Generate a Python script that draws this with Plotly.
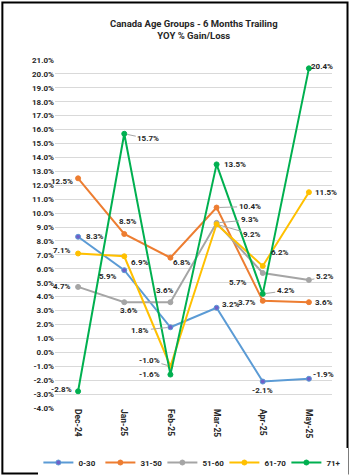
import plotly.graph_objects as go

months = ["Dec-24", "Jan-25", "Feb-25", "Mar-25", "Apr-25", "May-25"]
age_0_30 = [8.3, 5.9, 1.8, 3.2, -2.1, -1.9]
age_31_50 = [12.5, 8.5, 6.8, 10.4, 3.7, 3.6]
age_51_60 = [4.7, 3.6, 3.6, 9.3, 5.7, 5.2]
age_61_70 = [7.1, 6.9, -1.0, 9.2, 6.2, 11.5]
age_71p = [-2.8, 15.7, -1.6, 13.5, 4.2, 20.4]
series_names = ["0-30", "31-50", "51-60", "61-70", "71+"]
tick_vals = list(range(-4, 22))

series = [age_0_30, age_31_50, age_51_60, age_61_70, age_71p]
colors = ["#5B9BD5", "#ED7D31", "#A5A5A5", "#FFC000", "#00B050"]
marker_fill = ["#7060C8", "#ED7D31", "#A5A5A5", "#FFC000", "#00B050"]

# label offsets (dx, dy in screen px; leader flag)
offsets = [
    [(17, 0, 0), (-16, 6, 0), (-30, 3, 1), (14, -3, 0), (0, 9, 0), (15, -4, 0)],
    [(-16, 3, 0), (4, -13, 0), (12, 5, 0), (33, -1, 1), (-16, 2, 0), (15, 0, 0)],
    [(-16, 0, 0), (5, 8, 0), (-5, -12, 0), (33, -3, 1), (-25, 10, 0), (16, -3, 1)],
    [(-16, -3, 0), (16, 6, 0), (-21, -6, 1), (35, 10, 1), (17, -14, 0), (17, 0, 0)],
    [(-17, -2, 0), (24, 5, 1), (-21, 0, 0), (18, 0, 0), (23, -3, 1), (13, -2, 0)],
]

FONT = "Roboto"
fig = go.Figure()
for name, vals, c, mf in zip(series_names, series, colors, marker_fill):
    fig.add_trace(go.Scatter(
        x=months, y=vals, name=f"<b>{name}</b>", mode="lines+markers",
        line=dict(color=c, width=2),
        marker=dict(size=5, color=mf, line=dict(color=c, width=1)),
    ))

annotations = []
for vals, offs in zip(series, offsets):
    for m, v, (dx, dy, lead) in zip(months, vals, offs):
        txt = f"<b>{v:.1f}%</b>"
        if lead:
            annotations.append(dict(x=m, y=v, xref="x", yref="y", text=txt,
                                    showarrow=True, arrowhead=0, arrowwidth=1,
                                    arrowcolor="#A6A6A6", ax=dx, ay=dy, standoff=3,
                                    font=dict(size=8, color="#262626", family=FONT)))
        else:
            annotations.append(dict(x=m, y=v, xref="x", yref="y", text=txt,
                                    showarrow=False, xshift=dx, yshift=-dy,
                                    font=dict(size=8, color="#262626", family=FONT)))

annotations.append(dict(x=0.5, y=1.089, xref="paper", yref="paper", showarrow=False,
                        text="<b>Canada Age Groups - 6 Months Trailing<br>YOY % Gain/Loss</b>",
                        font=dict(size=9.5, color="#262626", family=FONT), yanchor="middle"))

fig.update_layout(
    width=350, height=476,
    margin=dict(l=55, r=18, t=60, b=68, autoexpand=False),
    paper_bgcolor="white", plot_bgcolor="white",
    showlegend=True,
    legend=dict(orientation="h", x=-0.06, xanchor="left", y=-0.115, yanchor="top",
                font=dict(size=8, color="#262626", family=FONT),
                itemwidth=30, entrywidth=17, entrywidthmode="pixels", tracegroupgap=0),
    annotations=annotations,
    shapes=[dict(type="rect", xref="paper", yref="paper",
                 x0=-0.19, x1=1.056, y0=-0.188, y1=1.165,
                 line=dict(color="black", width=2), layer="above")],
    font=dict(family=FONT),
)
fig.update_xaxes(type="category", range=[-0.5, 5.5], tickangle=90,
                 tickvals=months, ticktext=[f"<b>{m}</b>" for m in months],
                 tickfont=dict(size=8.5, color="#262626", family=FONT),
                 showgrid=False, showline=False, ticks="")
fig.update_yaxes(range=[-4, 21], tickvals=tick_vals,
                 ticktext=[f"<b>{t:.1f}%</b>" for t in tick_vals],
                 tickfont=dict(size=8, color="#262626", family=FONT),
                 showgrid=True, gridcolor="#D9D9D9", gridwidth=1,
                 zeroline=False, showline=False, ticks="")

fig.write_html("out.html")
